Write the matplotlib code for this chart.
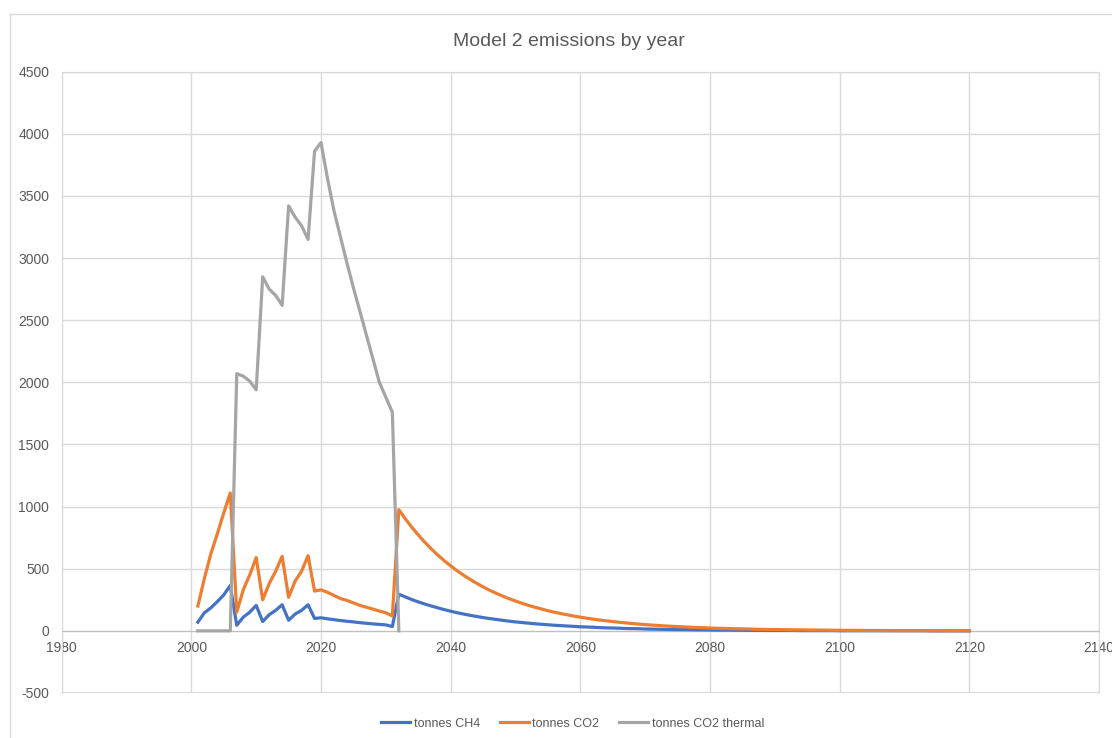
import matplotlib
matplotlib.use("Agg")
import matplotlib.pyplot as plt
from matplotlib.lines import Line2D

plt.rcParams['font.family'] = ['Liberation Sans', 'DejaVu Sans']
plt.rcParams['axes.unicode_minus'] = False

# years 2001..2120 (one value per year)
years = list(range(2001, 2121))

# tonnes CH4
ch4 = [70, 145, 185, 235, 290, 365, 45, 110, 150, 205,
       75, 130, 165, 210, 85, 135, 165, 210, 100, 105,
       97, 90, 83, 77, 72, 66, 61, 56, 52, 48,
       35, 295, 273, 252, 233, 216, 200, 185, 171, 158,
       146, 135, 125, 116, 107, 99, 92, 85, 78, 72,
       67, 62, 57, 53, 49, 45, 42, 39, 36, 33,
       31, 29, 26, 24, 23, 21, 19, 18, 17, 15,
       14, 13, 12, 11, 10, 10, 9, 8, 8, 7,
       6, 6, 6, 5, 5, 4, 4, 4, 3, 3,
       3, 3, 3, 2, 2, 2, 2, 2, 2, 1,
       1, 1, 1, 1, 1, 1, 1, 1, 1, 1,
       1, 1, 1, 0, 0, 0, 0, 0, 0, 0]

# tonnes CO2
co2 = [200, 420, 620, 780, 950, 1110, 150, 330, 450, 590,
       250, 380, 480, 600, 270, 400, 480, 605, 320, 330,
       310, 285, 260, 245, 225, 205, 190, 175, 160, 145,
       120, 975, 902, 834, 772, 714, 660, 611, 565, 523,
       483, 447, 414, 383, 354, 327, 303, 280, 259, 240,
       222, 205, 190, 176, 162, 150, 139, 129, 119, 110,
       102, 94, 87, 81, 75, 69, 64, 59, 55, 50,
       47, 43, 40, 37, 34, 32, 29, 27, 25, 23,
       21, 20, 18, 17, 16, 15, 13, 12, 11, 11,
       10, 9, 8, 8, 7, 7, 6, 6, 5, 5,
       4, 4, 4, 3, 3, 3, 3, 2, 2, 2,
       2, 2, 2, 1, 1, 1, 1, 1, 1, 1]

# tonnes CO2 thermal (ends 2032)
years_th = list(range(2001, 2033))
co2_th = [0, 0, 0, 0, 0, 0, 2070, 2050, 2010, 1940,
          2850, 2750, 2700, 2620, 3420, 3330, 3260, 3150, 3860, 3930,
          3640, 3380, 3170, 2960, 2760, 2570, 2380, 2190, 2000, 1880,
          1760, 0]

xticks = list(range(1980, 2141, 20))
yticks = list(range(-500, 4501, 500))

fig = plt.figure(figsize=(11.12, 7.38), dpi=100)
ax = fig.add_axes([0.0555, 0.061, 0.9328, 0.8418])

txt = '#595959'
grid = '#d9d9d9'

ax.plot(years, ch4, color='#4472C4', lw=2.3, solid_joinstyle='round', label='tonnes CH4', zorder=3)
ax.plot(years, co2, color='#ED7D31', lw=2.3, solid_joinstyle='round', label='tonnes CO2', zorder=4)
ax.plot(years_th, co2_th, color='#A5A5A5', lw=2.3, solid_joinstyle='round', label='tonnes CO2 thermal', zorder=5)

ax.set_xlim(1980, 2140)
ax.set_ylim(-500, 4500)
ax.set_xticks(xticks)
ax.set_yticks(yticks)
ax.grid(True, color=grid, lw=1)
ax.set_axisbelow(True)

for s in ['left', 'top', 'right']:
    ax.spines[s].set_color(grid)
ax.spines['bottom'].set_position(('data', 0))
ax.spines['bottom'].set_color('#bfbfbf')
ax.axhline(-500, color=grid, lw=1.5, zorder=0)

ax.tick_params(axis='both', length=0, labelsize=10, labelcolor=txt)
ax.tick_params(axis='y', pad=9)
ax.tick_params(axis='x', pad=7)

fig.text(0.512, 0.944, 'Model 2 emissions by year', ha='center', va='center',
         fontsize=14, color=txt)

leg = fig.legend(loc='lower center', bbox_to_anchor=(0.515, -0.004), ncol=3, frameon=False,
                 fontsize=9, handlelength=2.3, handletextpad=0.3, columnspacing=1.6)
for t in leg.get_texts():
    t.set_color(txt)

# chart frame
fig.add_artist(Line2D([10/1112, 10/1112], [0, 1-14/738], color=grid, lw=1))
fig.add_artist(Line2D([10/1112, 1], [1-14/738, 1-14/738], color=grid, lw=1))

fig.savefig('out.png', dpi=100, facecolor='white')
